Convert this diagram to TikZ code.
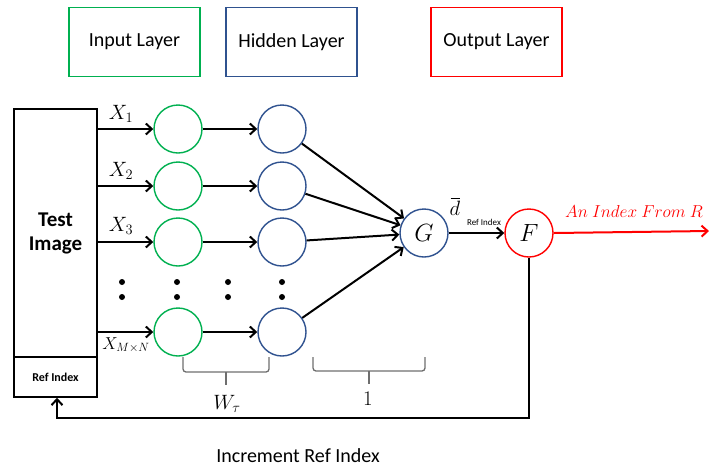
\documentclass[tikz,border=0pt]{standalone}
\usepackage{fontspec}
\setmainfont{Carlito}
\usetikzlibrary{arrows.meta}
\definecolor{ingreen}{RGB}{0,176,80}
\definecolor{hidblue}{RGB}{47,82,143}
\definecolor{outred}{RGB}{255,0,0}
\definecolor{bracegray}{RGB}{110,110,110}
\tikzset{
  legend/.style={draw,line width=1.6pt,minimum width=131pt,minimum height=69pt,font=\fontsize{20}{22}\selectfont,inner sep=0pt},
  neuron/.style={circle,draw,line width=1.4pt,minimum size=48pt,inner sep=0pt,font=\fontsize{25}{27}\selectfont},
  innode/.style={neuron,draw=ingreen},
  hidnode/.style={neuron,draw=hidblue},
  outnode/.style={neuron,draw=outred},
  conn/.style={line width=2pt,-{Straight Barb[length=6pt,width=11pt,line width=2pt]}},
  dotc/.style={circle,fill=black,inner sep=0pt,minimum size=6pt},
  lab/.style={font=\fontsize{21}{23}\selectfont},
  brc/.style={draw=bracegray,line width=1.3pt,rounded corners=3pt}
}
\begin{document}
\begin{tikzpicture}[x=1pt,y=-1pt]
\useasboundingbox (0,0) rectangle (709,467);
% legend
\node[legend,draw=ingreen] (lin) at (134.5,42) {Input Layer};
\node[legend,draw=hidblue] (lhid) at (291.5,42) {Hidden Layer};
\node[legend,draw=outred] (lout) at (496.5,42) {Output Layer};
% test image box
\node[draw,line width=1.4pt,minimum width=83pt,minimum height=248pt,inner sep=0pt,align=center,font=\bfseries\fontsize{21}{24}\selectfont] (img) at (55.5,233) {Test\\Image};
\node[draw,line width=1.4pt,minimum width=83pt,minimum height=40pt,inner sep=0pt,font=\bfseries\fontsize{12}{14}\selectfont] (ref) at (55.5,377) {Ref Index};
% neurons
\node[hidnode] (g) at (424,233) {$G$};
\foreach \i/\y in {1/129,2/186,3/242,4/332}{
  \node[innode] (i\i) at (178,\y) {};
  \node[hidnode] (h\i) at (282,\y) {};
  \coordinate (s\i) at (97,\y);
  \draw[conn] (s\i) -- (i\i);
  \draw[conn] (i\i) -- (h\i);
  \draw[conn] (h\i) -- (g);
}
\node[outnode] (f) at (529,233) {$F$};
\draw[conn] (g) -- (f);
\node[font=\fontsize{22}{24}\selectfont,anchor=south,inner sep=0pt] (dbar) at (455,216) {$d$};
\draw[line width=0.9pt] ([xshift=1pt,yshift=2.5pt]dbar.north west) -- ([xshift=-0.5pt,yshift=2.5pt]dbar.north east);
\node[font=\fontsize{9}{10}\selectfont,inner sep=0pt] (dsub) at (484,222) {Ref Index};
\coordinate (oend) at (709,231);
\draw[line width=2pt,draw=outred,-{Straight Barb[length=6pt,width=11pt,line width=2pt]}] (f.east) -- (oend);
\node[text=outred,font=\fontsize{18.5}{20}\selectfont,anchor=south] (idx) at (634,221) {$An\ Index\ From\ R$};
% feedback
\coordinate (fb1) at (529,418);
\coordinate (fb2) at (57,418);
\draw[line width=2pt,-{Straight Barb[length=6pt,width=11pt,line width=2pt]}] (f.south) -- (fb1) -- (fb2) -- (ref.south -| fb2);
% labels
\node[lab] (x1) at (121,114) {$X_1$};
\node[lab] (x2) at (121,171) {$X_2$};
\node[lab] (x3) at (121,226) {$X_3$};
\node[font=\fontsize{18}{20}\selectfont] (xmn) at (126,345) {$X_{M\times N}$};
% dots
\foreach \x/\n in {122/a,177/b,228/c,282/d}{
  \node[dotc] (d\n1) at (\x,282) {};
  \node[dotc] (d\n2) at (\x,297) {};
}
% braces
\coordinate (b1a) at (183,357);
\coordinate (b1b) at (269,357);
\coordinate (b1m) at (226,372);
\coordinate (b1t) at (226,385);
\draw[brc] (b1a) |- (b1m) -| (b1b);
\draw[brc,rounded corners=0pt] (b1m) -- (b1t);
\node[lab] (wt) at (227,404) {$W_\tau$};
\coordinate (b2a) at (313,357);
\coordinate (b2b) at (425,357);
\coordinate (b2m) at (369,371);
\coordinate (b2t) at (369,384);
\draw[brc] (b2a) |- (b2m) -| (b2b);
\draw[brc,rounded corners=0pt] (b2m) -- (b2t);
\node[lab] (one) at (368,399) {$1$};
\node[font=\fontsize{20}{22}\selectfont] (inc) at (298,456) {Increment Ref Index};
\end{tikzpicture}
\end{document}
